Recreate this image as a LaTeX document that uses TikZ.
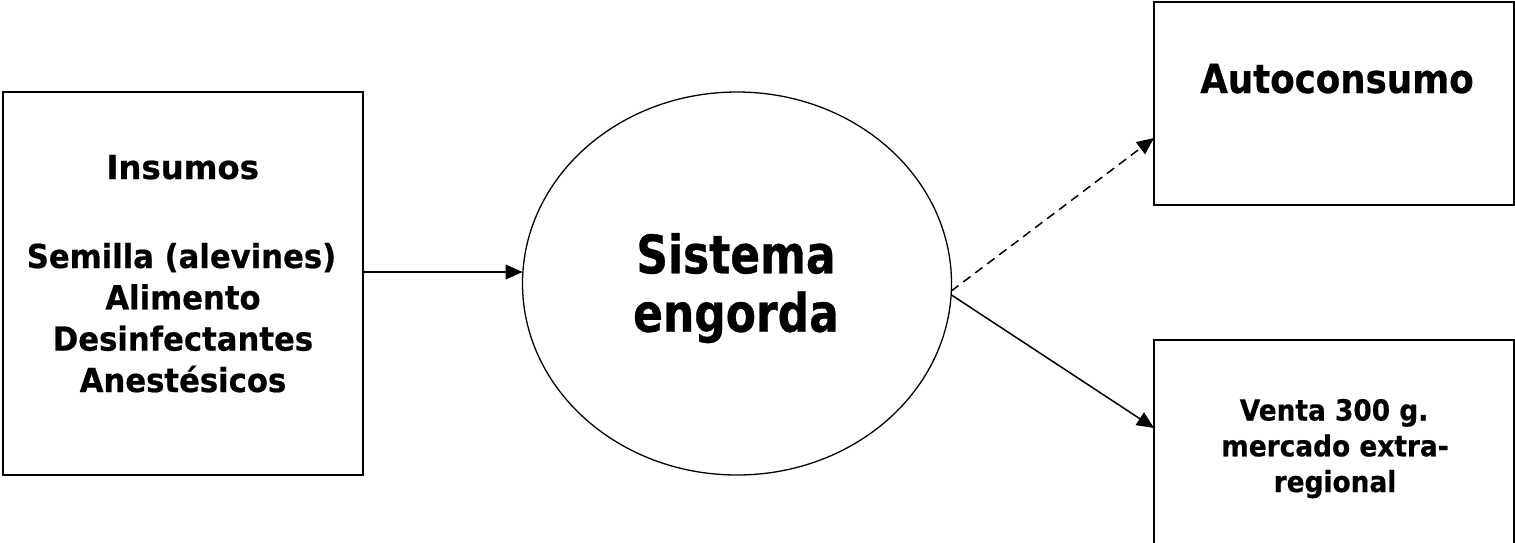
\documentclass[tikz,border=0pt]{standalone}
\usepackage{fontspec}
\setmainfont{DejaVu Sans}
\newfontfamily\fInsH{DejaVu Sans}[FakeStretch=0.98, BoldFeatures={FakeBold=0.6}]
\newfontfamily\fIns{DejaVu Sans}[FakeStretch=0.93, BoldFeatures={FakeBold=0.6}]
\newfontfamily\fSis{DejaVu Sans}[FakeStretch=0.83, BoldFeatures={FakeBold=0.6}]
\newfontfamily\fAut{DejaVu Sans}[FakeStretch=0.89, BoldFeatures={FakeBold=0.6}]
\newfontfamily\fVen{DejaVu Sans}[FakeStretch=0.91, BoldFeatures={FakeBold=0.6}]
\usetikzlibrary{arrows.meta,shapes.geometric}
\begin{document}
\begin{tikzpicture}[x=0.5pt,y=-0.5pt,
  box/.style={draw, line width=0.8pt, rectangle, inner sep=0pt, outer sep=0pt, minimum width=180pt},
  proc/.style={draw, ellipse, line width=0.65pt, inner sep=0pt, outer sep=0pt, minimum width=214.5pt, minimum height=191.5pt},
  txt/.style={anchor=base, inner sep=0pt, outer sep=0pt},
  insh/.style={txt, font=\fInsH\bfseries\fontsize{16.5pt}{20pt}\selectfont},
  ins/.style={txt, font=\fIns\bfseries\fontsize{16.5pt}{20pt}\selectfont},
  sis/.style={txt, font=\fSis\bfseries\fontsize{26.5pt}{30pt}\selectfont},
  aut/.style={txt, font=\fAut\bfseries\fontsize{20pt}{24pt}\selectfont},
  ven/.style={txt, font=\fVen\bfseries\fontsize{14.5pt}{18pt}\selectfont},
  flow/.style={line width=0.75pt, -{Triangle[length=8.5pt,width=7.5pt]}},
  dflow/.style={flow, dash pattern=on 4.5pt off 3pt},
]
\fill[white] (0,0) rectangle (1515,542);
\useasboundingbox (0,0) rectangle (1515,542);

% shapes
\node[box, minimum height=191.5pt] (lb) at (183,283.5) {};
\node[proc] (ell) at (737,283.5) {};
\node[box, minimum height=101.5pt] (tr) at (1334,103.5) {};
\node[box, minimum height=102.5pt] (br) at (1334,442.5) {};

% left box texts
\node[insh] (t1) at (182.7,179) {Insumos};
\node[ins] (t2) at (181.5,268) {Semilla (alevines)};
\node[ins] (t3) at (183,309.3) {Alimento};
\node[ins] (t4) at (183,350.6) {Desinfectantes};
\node[ins] (t5) at (183,392) {Anestésicos};

% ellipse texts
\node[sis] (s1) at (736,273.3) {Sistema};
\node[sis] (s2) at (736,331.7) {engorda};

% right box texts
\node[aut] (a1) at (1337,93) {Autoconsumo};
\node[ven] (v1) at (1334,420.5) {Venta 300 g.};
\node[ven] (v2) at (1335,456.3) {mercado extra-};
\node[ven] (v3) at (1335,492) {regional};

% connectors
\draw[flow] ([yshift=5.75pt]lb.east) -- ([yshift=5.75pt]ell.west);
\draw[dflow] (ell.-2.5) -- ([yshift=-17.25pt]tr.west);
\draw[flow] (ell.-3.3) -- ([yshift=7.25pt]br.west);
\end{tikzpicture}
\end{document}
